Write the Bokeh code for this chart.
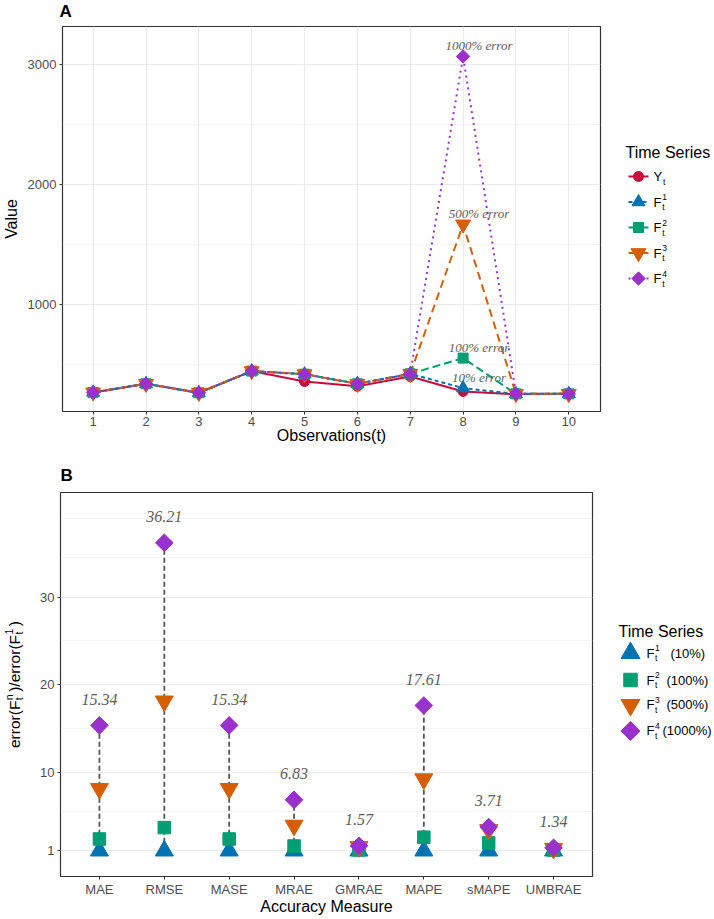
import numpy as np
from bokeh.plotting import figure
from bokeh.models import Range1d, FixedTicker, Label, ColumnDataSource
from bokeh.layouts import row, column
from bokeh.embed import file_html
from bokeh.resources import INLINE
from bokeh.core.properties import value

# ---------------- data: panel A ----------------
observations = [1, 2, 3, 4, 5, 6, 7, 8, 9, 10]
series_Y = [270, 342, 267, 448, 361, 322, 402, 278, 255, 258]
series_F1 = [270, 342, 267, 448, 422, 342, 425, 306, 258, 258]
series_F2 = [270, 342, 267, 448, 422, 342, 425, 556, 258, 258]
series_F3 = [270, 342, 267, 448, 422, 342, 425, 1670, 258, 258]
series_F4 = [270, 342, 267, 448, 422, 342, 425, 3070, 258, 258]
error_obs = 8
error_texts = ["10% error", "100% error", "500% error", "1000% error"]
a_yticks = [1000, 2000, 3000]
a_yminor = [500, 1500, 2500]

# ---------------- data: panel B ----------------
measures = ["MAE", "RMSE", "MASE", "MRAE", "GMRAE", "MAPE", "sMAPE", "UMBRAE"]
ratio_F1 = [1, 1, 1, 1, 1, 1, 1, 1]
ratio_F2 = [2.35, 3.65, 2.35, 1.55, 1.1, 2.55, 1.9, 1.1]
ratio_F3 = [8.1, 18.1, 8.1, 3.9, 1.45, 9.2, 3.4, 1.25]
ratio_F4 = [15.34, 36.21, 15.34, 6.83, 1.57, 17.61, 3.71, 1.34]
b_yticks = [1, 10, 20, 30]
b_yminor = [5.5, 15, 25, 34.5, 39]
legend_pct = ["(10%)", "(100%)", "(500%)", "(1000%)"]

# ---------------- styles / layout ----------------
RED = "#CC0A3A"
BLUE = "#0072B2"
GREEN = "#009E73"
ORANGE = "#D55E00"
PURPLE = "#9932CC"
GRID = "#EBEBEB"
SANS = "Liberation Sans"
SERIF = "Liberation Serif"
NOTE = "#5E5E5E"

TOTAL_W = 714
YLAB_W = 24
MAIN_W = 584
LEG_W = TOTAL_W - YLAB_W - MAIN_W
HDR_A, HDR_B = 24, 38
A_TOP, A_FRAME, A_BOT = 2, 385, 41
B_TOP, B_FRAME, B_BOT = 2, 385, 40
H_A = A_TOP + A_FRAME + A_BOT
H_B = B_TOP + B_FRAME + B_BOT


def style(p):
    p.outline_line_color = "#333333"
    p.outline_line_width = 1.2
    p.background_fill_color = "white"
    p.border_fill_color = "white"
    for ax in p.axis:
        ax.axis_line_color = None
        ax.major_tick_line_color = "#333333"
        ax.major_tick_out = 3
        ax.major_tick_in = 0
        ax.minor_tick_line_color = None
        ax.major_label_text_font = SANS
        ax.major_label_text_font_size = "13px"
        ax.major_label_text_color = "#4D4D4D"
        ax.major_label_standoff = 2
        ax.axis_label_text_font = SANS
        ax.axis_label_text_font_size = "16px"
        ax.axis_label_text_font_style = "normal"
        ax.axis_label_text_color = "black"
        ax.axis_label_standoff = -2
    p.grid.grid_line_color = GRID
    p.grid.grid_line_width = 1.2


def canvas(w, h, top=0, bot=0):
    """plain drawing area; data units are pixels from the figure's top-left"""
    c = figure(width=w, height=h, x_range=Range1d(0, w),
               y_range=Range1d(h - bot, top), output_backend="svg",
               toolbar_location=None, min_border_left=0, min_border_right=0,
               min_border_top=top, min_border_bottom=bot,
               x_axis_location=None, y_axis_location=None)
    c.outline_line_color = None
    c.grid.visible = False
    c.background_fill_color = "white"
    c.border_fill_color = "white"
    return c


def lab(p, x, y, text, size, color="black", font=SANS, fstyle="normal",
        align="left", baseline="middle", xo=0, yo=0):
    p.add_layout(Label(x=x, y=y, text=text, x_offset=xo, y_offset=yo,
                       text_font=font, text_font_size=f"{size}px",
                       text_font_style=fstyle, text_color=color,
                       text_align=align, text_baseline=baseline))


def rtext(c, x, y, text, size, align="left"):
    c.text(x=[x], y=[y], text=[text], angle=np.pi / 2, text_font=value(SANS),
           text_font_size=f"{size}px", text_color="black", text_align=align,
           text_baseline="middle")


def header(h, letter, x, y):
    c = canvas(TOTAL_W, h)
    c.text(x=[x], y=[y], text=[letter], text_font=value(SANS),
           text_font_style="bold", text_font_size="17px", text_color="black",
           text_align="left", text_baseline="middle")
    return c


# ================= header A =================
hA = header(HDR_A, "A", 59, 11)

# ================= Panel A =================
pA = figure(width=MAIN_W, height=H_A, x_range=Range1d(0.42, 10.6),
            y_range=Range1d(111, 3319), output_backend="svg",
            toolbar_location=None, min_border_left=35, min_border_right=8,
            min_border_top=A_TOP, min_border_bottom=A_BOT)
style(pA)
pA.xaxis.axis_label = "Observations(t)"
tA = FixedTicker(ticks=observations)
pA.xaxis.ticker = tA
pA.xgrid.ticker = tA
tAy = FixedTicker(ticks=a_yticks, minor_ticks=a_yminor)
pA.yaxis.ticker = tAy
pA.ygrid.ticker = tAy
pA.ygrid.minor_grid_line_color = GRID
pA.ygrid.minor_grid_line_width = 0.6

seriesA = [
    (series_Y, RED, "solid", "circle", 10, 0.0),
    (series_F1, BLUE, "4 3", "triangle", 13, 0.0),
    (series_F2, GREEN, "8 4", "square", 10, 0.0),
    (series_F3, ORANGE, "8 5", "inverted_triangle", 15, 0.0),
    (series_F4, PURPLE, "2 4", "square", 9.5, np.pi / 4),
]
for ys, col, dash, mk, sz, ang in seriesA:
    pA.line(observations, ys, line_color=col, line_width=2, line_dash=dash)
for ys, col, dash, mk, sz, ang in seriesA:
    pA.scatter(observations, ys, marker=mk, size=sz, angle=ang,
               fill_color=col, line_color=col)

nudge_x, nudge_y = 0.3, 92
err_vals = [s[error_obs - 1] for s in (series_F1, series_F2, series_F3, series_F4)]
srcA = ColumnDataSource(dict(x=[error_obs + nudge_x] * 4,
                             y=[v + nudge_y for v in err_vals],
                             t=error_texts))
pA.text(x="x", y="y", text="t", source=srcA, text_font=value(SERIF),
        text_font_style="italic", text_font_size="13px", text_color=NOTE,
        text_align="center", text_baseline="middle")

# y title A
yA = canvas(YLAB_W, H_A, A_TOP, A_BOT)
rtext(yA, 11, A_TOP + A_FRAME / 2, "Value", 16, align="center")

# legend A
legA = canvas(LEG_W, H_A, A_TOP, A_BOT)
lab(legA, 17, 128, "Time Series", 16)
rowsA = [152, 177.5, 203, 228.5, 254]
namesA = [("Y", 8.7, None), ("F", 7.9, "1"), ("F", 7.9, "2"), ("F", 7.9, "3"), ("F", 7.9, "4")]
for (ys, col, dash, mk, sz, ang), yy, (base, bw, sup) in zip(seriesA, rowsA, namesA):
    legA.line([20, 40], [yy, yy], line_color=col, line_width=2, line_dash=dash)
    legA.scatter([30], [yy], marker=mk, size=sz, angle=ang, fill_color=col, line_color=col)
    lab(legA, 45, yy, base, 13)
    if sup:
        lab(legA, 45 + bw + 0.8, yy, sup, 8.5, yo=5)
    lab(legA, 45 + bw + 0.8, yy, "t", 8.5, yo=-5)

# ================= header B =================
hB = header(HDR_B, "B", 60, 23)

# ================= Panel B =================
xB = [i + 1 for i in range(len(measures))]
pB = figure(width=MAIN_W, height=H_B, x_range=Range1d(0.4, 8.6),
            y_range=Range1d(-1.94, 41.96), output_backend="svg",
            toolbar_location=None, min_border_left=36, min_border_right=16,
            min_border_top=B_TOP, min_border_bottom=B_BOT)
style(pB)
pB.xaxis.axis_label = "Accuracy Measure"
pB.xaxis.ticker = FixedTicker(ticks=xB)
pB.xaxis.major_label_overrides = {x: m for x, m in zip(xB, measures)}
pB.xgrid.grid_line_color = None
tBy = FixedTicker(ticks=b_yticks, minor_ticks=b_yminor)
pB.yaxis.ticker = tBy
pB.ygrid.ticker = tBy
pB.ygrid.minor_grid_line_color = GRID
pB.ygrid.minor_grid_line_width = 0.6

top = np.max([ratio_F1, ratio_F2, ratio_F3, ratio_F4], axis=0)
pB.segment(x0=xB, y0=ratio_F1, x1=xB, y1=top, line_color="#555555",
           line_width=1.8, line_dash="5 3")
seriesB = [
    (ratio_F1, BLUE, "triangle", 18, 0.0),
    (ratio_F2, GREEN, "square", 12.5, 0.0),
    (ratio_F3, ORANGE, "inverted_triangle", 18, 0.0),
    (ratio_F4, PURPLE, "square", 12.5, np.pi / 4),
]
for ys, col, mk, sz, ang in seriesB:
    pB.scatter(xB, ys, marker=mk, size=sz, angle=ang, fill_color=col, line_color=col)

label_nudge = 3
srcB = ColumnDataSource(dict(x=xB, y=[v + label_nudge for v in ratio_F4],
                             t=[f"{v:.2f}" for v in ratio_F4]))
pB.text(x="x", y="y", text="t", source=srcB, text_font=value(SERIF),
        text_font_style="italic", text_font_size="16px", text_color=NOTE,
        text_align="center", text_baseline="middle")

# y title B: error(F_t^n)/error(F_t^1), built from text pieces reading upward
yB = canvas(YLAB_W, H_B, B_TOP, B_BOT)
MAIN, SMALL = 15.5, 10.5
w1 = 3.055 * MAIN
w2 = 3.666 * MAIN
wb = 9.0
w3 = 0.333 * MAIN
total = w1 + wb + w2 + wb + w3
xc = 13.5
pos = B_TOP + B_FRAME / 2 + total / 2
rtext(yB, xc, pos, "error(F", MAIN)
pos -= w1
rtext(yB, xc + 4.5, pos - 0.5, "t", SMALL)
rtext(yB, xc - 5.5, pos - 0.5, "n", SMALL)
pos -= wb
rtext(yB, xc, pos, ")/error(F", MAIN)
pos -= w2
rtext(yB, xc + 4.5, pos - 0.5, "t", SMALL)
rtext(yB, xc - 5.5, pos - 0.5, "1", SMALL)
pos -= wb
rtext(yB, xc, pos, ")", MAIN)

# legend B
legB = canvas(LEG_W, H_B, B_TOP, B_BOT)
lab(legB, 10, 141, "Time Series", 16)
rowsB = [163, 190, 215, 241]
pct_x = [62, 58, 58, 54]
for i, ((ys, col, mk, sz, ang), yy) in enumerate(zip(seriesB, rowsB)):
    legB.scatter([22], [yy], marker=mk, size=sz + 1, angle=ang, fill_color=col, line_color=col)
    lab(legB, 38, yy, "F", 13)
    lab(legB, 38 + 8.5, yy, str(i + 1), 8.5, yo=5)
    lab(legB, 38 + 8.5, yy, "t", 8.5, yo=-5)
    lab(legB, pct_x[i], yy, legend_pct[i], 13)

layout = column(hA, row(yA, pA, legA), hB, row(yB, pB, legB))
open("out.html", "w").write(file_html(layout, INLINE))
